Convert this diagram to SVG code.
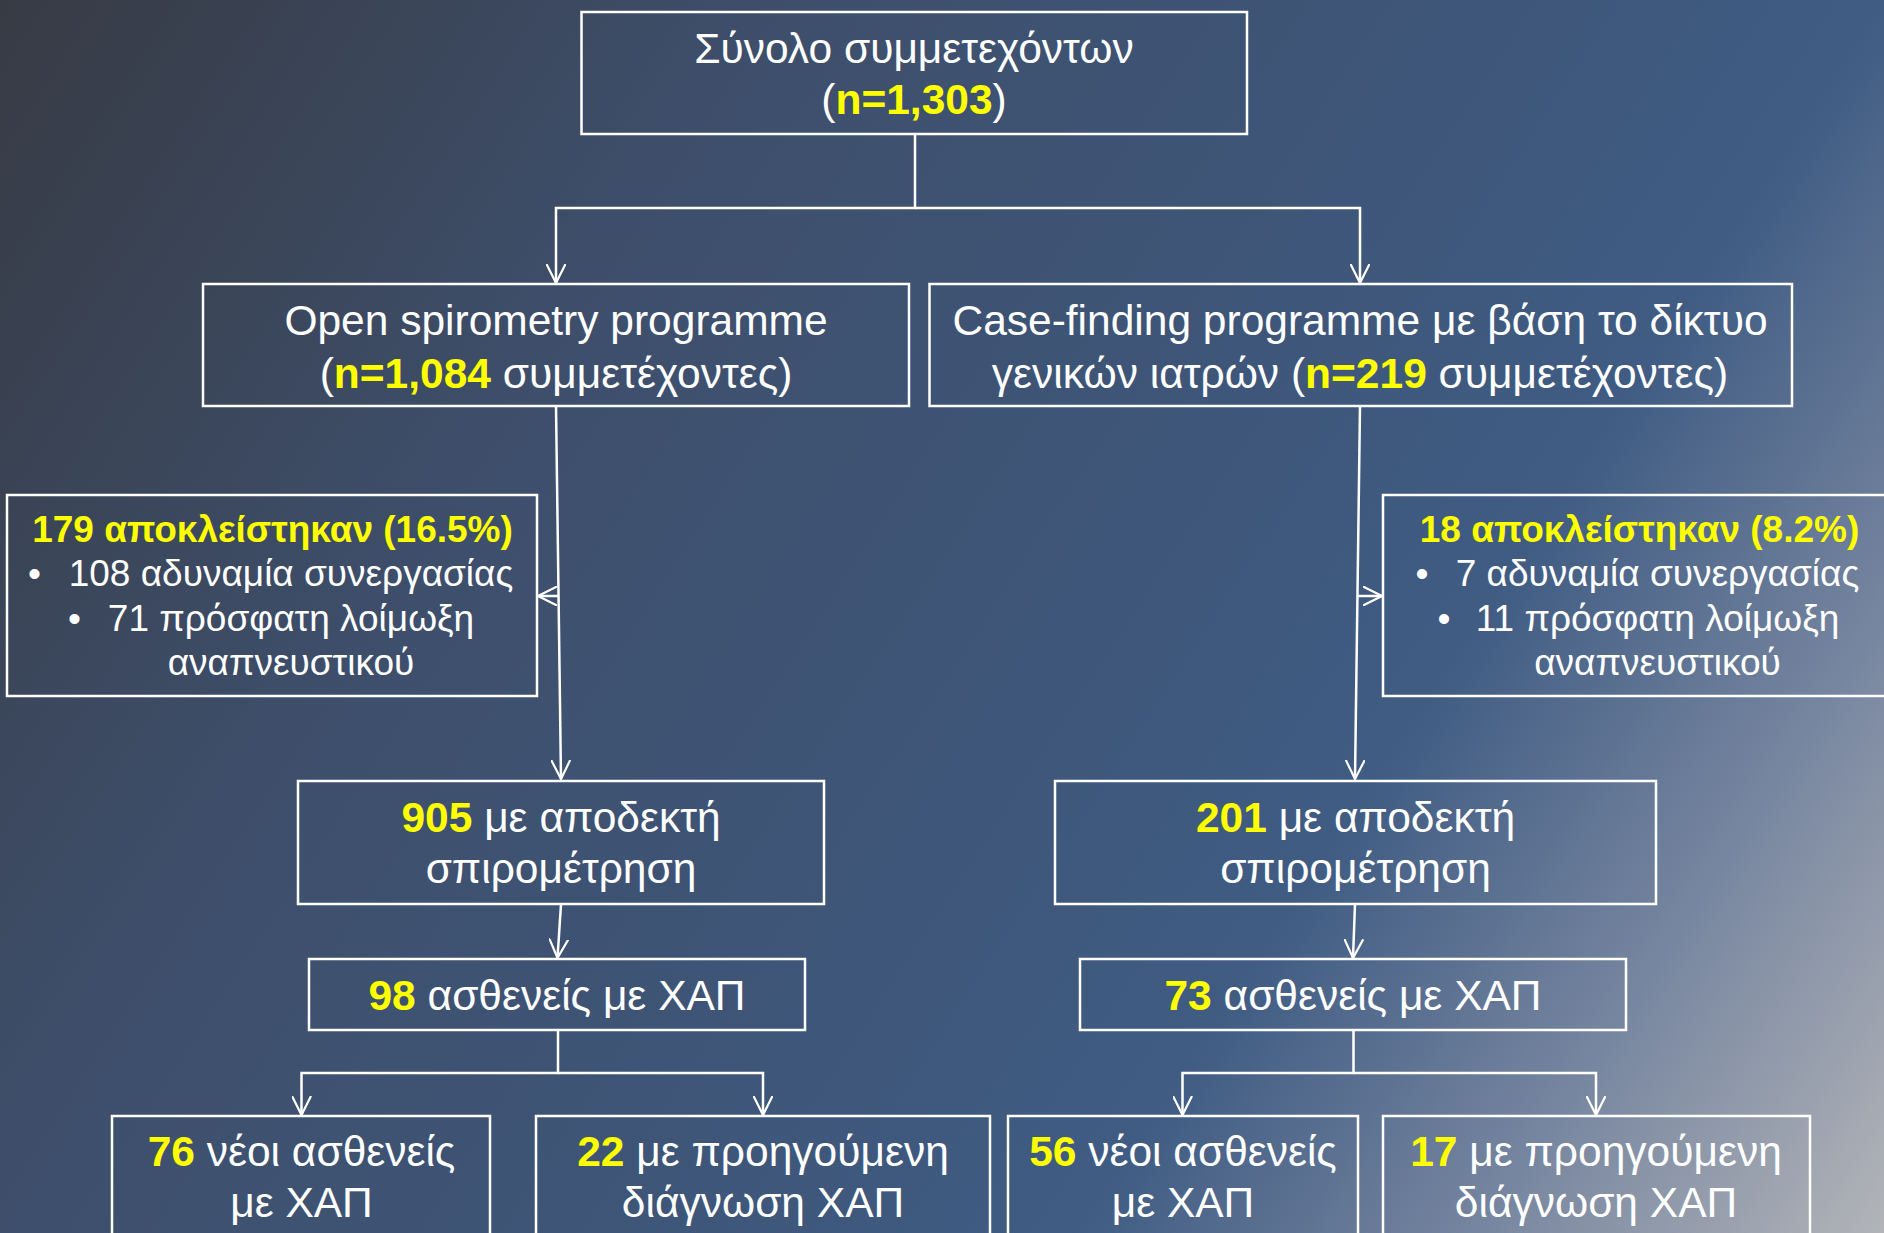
<svg xmlns="http://www.w3.org/2000/svg" width="1884" height="1233" viewBox="0 0 1884 1233">
  <defs>
    <linearGradient id="bg" gradientUnits="userSpaceOnUse" x1="0" y1="0" x2="1884" y2="1233">
      <stop offset="0" stop-color="#373b44"/>
      <stop offset="0.3" stop-color="#3e4f6c"/>
      <stop offset="0.55" stop-color="#3e5679"/>
      <stop offset="0.7" stop-color="#405c83"/>
      <stop offset="0.85" stop-color="#7786a0"/>
      <stop offset="1" stop-color="#b2b4b8"/>
    </linearGradient>
    <marker id="arrow" viewBox="0 0 20 20" refX="19" refY="10" markerWidth="20" markerHeight="20" markerUnits="userSpaceOnUse" orient="auto">
      <path d="M0,0.5 L19,10 L0,19.5" fill="none" stroke="#ffffff" stroke-width="2.2"/>
    </marker>
    <style>
      .box { fill: none; stroke: #ffffff; stroke-width: 2.5; }
      .t { font-family: "Liberation Sans", Arial, sans-serif; fill: #ffffff; text-anchor: middle; }
      .big { font-size: 42.5px; }
      .small { font-size: 37px; }
      .y { fill: #ffff00; font-weight: bold; }
      .conn path { fill: none; stroke: #ffffff; stroke-width: 2.5; }
    </style>
  </defs>

  <rect x="0" y="0" width="1884" height="1233" fill="url(#bg)"/>

  <!-- connectors -->
  <g id="connectors" class="conn">
    <path d="M915,134 V208 H556 V283" marker-end="url(#arrow)"/>
    <path d="M915,208 H1360 V283" marker-end="url(#arrow)"/>
    <path d="M556,406 L561,779" marker-end="url(#arrow)"/>
    <path d="M558.5,596 H538" marker-end="url(#arrow)"/>
    <path d="M1360,406 L1355,779" marker-end="url(#arrow)"/>
    <path d="M1357.5,596 H1382" marker-end="url(#arrow)"/>
    <path d="M561,904 L557.5,958" marker-end="url(#arrow)"/>
    <path d="M1355,904 L1353,958" marker-end="url(#arrow)"/>
    <path d="M558,1030 V1073 H301.5 V1115" marker-end="url(#arrow)"/>
    <path d="M558,1073 H763 V1115" marker-end="url(#arrow)"/>
    <path d="M1353.5,1030 V1073 H1182.5 V1115" marker-end="url(#arrow)"/>
    <path d="M1353.5,1073 H1596 V1115" marker-end="url(#arrow)"/>
  </g>

  <!-- total -->
  <g id="total">
    <rect class="box" x="581.5" y="12" width="665.5" height="122"/>
    <text class="t big" x="914" y="63">Σύνολο συμμετεχόντων</text>
    <text class="t big" x="914" y="114">(<tspan class="y">n=1,303</tspan>)</text>
  </g>

  <!-- open spirometry programme -->
  <g id="open-spirometry">
    <rect class="box" x="203" y="284" width="706" height="122"/>
    <text class="t big" x="556" y="335">Open spirometry programme</text>
    <text class="t big" x="556" y="388">(<tspan class="y">n=1,084</tspan> συμμετέχοντες)</text>
  </g>

  <!-- case-finding programme -->
  <g id="case-finding">
    <rect class="box" x="929.5" y="284" width="862.5" height="122"/>
    <text class="t big" x="1360" y="335">Case-finding programme με βάση το δίκτυο</text>
    <text class="t big" x="1360" y="388">γενικών ιατρών (<tspan class="y">n=219</tspan> συμμετέχοντες)</text>
  </g>

  <!-- exclusions, open spirometry -->
  <g id="excluded-open">
    <rect class="box" x="7" y="495" width="530" height="201"/>
    <text class="t small y" x="272.5" y="541.5">179 αποκλείστηκαν (16.5%)</text>
    <text class="t small" x="34.5" y="586">•</text>
    <text class="t small" x="291" y="586">108 αδυναμία συνεργασίας</text>
    <text class="t small" x="74.5" y="631">•</text>
    <text class="t small" x="291" y="631">71 πρόσφατη λοίμωξη</text>
    <text class="t small" x="291" y="675">αναπνευστικού</text>
  </g>

  <!-- exclusions, case-finding -->
  <g id="excluded-case">
    <rect class="box" x="1383" y="495" width="512" height="201"/>
    <text class="t small y" x="1639.5" y="541.5">18 αποκλείστηκαν (8.2%)</text>
    <text class="t small" x="1422" y="586">•</text>
    <text class="t small" x="1657.5" y="586">7 αδυναμία συνεργασίας</text>
    <text class="t small" x="1444" y="631">•</text>
    <text class="t small" x="1657.5" y="631">11 πρόσφατη λοίμωξη</text>
    <text class="t small" x="1657.5" y="675">αναπνευστικού</text>
  </g>

  <!-- acceptable spirometry -->
  <g id="acceptable-open">
    <rect class="box" x="298" y="781" width="526" height="123"/>
    <text class="t big" x="561" y="832"><tspan class="y">905</tspan> με αποδεκτή</text>
    <text class="t big" x="561" y="883">σπιρομέτρηση</text>
  </g>

  <g id="acceptable-case">
    <rect class="box" x="1055" y="781" width="601" height="123"/>
    <text class="t big" x="1355.5" y="832"><tspan class="y">201</tspan> με αποδεκτή</text>
    <text class="t big" x="1355.5" y="883">σπιρομέτρηση</text>
  </g>

  <!-- COPD patients -->
  <g id="copd-open">
    <rect class="box" x="309" y="959" width="496" height="71"/>
    <text class="t big" x="557" y="1010"><tspan class="y">98</tspan> ασθενείς με ΧΑΠ</text>
  </g>

  <g id="copd-case">
    <rect class="box" x="1080" y="959" width="546" height="71"/>
    <text class="t big" x="1353" y="1010"><tspan class="y">73</tspan> ασθενείς με ΧΑΠ</text>
  </g>

  <!-- new / previous diagnosis -->
  <g id="new-open">
    <rect class="box" x="112" y="1116" width="378" height="130"/>
    <text class="t big" x="301.5" y="1166"><tspan class="y">76</tspan> νέοι ασθενείς</text>
    <text class="t big" x="301.5" y="1217">με ΧΑΠ</text>
  </g>

  <g id="previous-open">
    <rect class="box" x="536" y="1116" width="454" height="130"/>
    <text class="t big" x="763" y="1166"><tspan class="y">22</tspan> με προηγούμενη</text>
    <text class="t big" x="763" y="1217">διάγνωση ΧΑΠ</text>
  </g>

  <g id="new-case">
    <rect class="box" x="1008" y="1116" width="350" height="130"/>
    <text class="t big" x="1183" y="1166"><tspan class="y">56</tspan> νέοι ασθενείς</text>
    <text class="t big" x="1183" y="1217">με ΧΑΠ</text>
  </g>

  <g id="previous-case">
    <rect class="box" x="1383" y="1116" width="427" height="130"/>
    <text class="t big" x="1596" y="1166"><tspan class="y">17</tspan> με προηγούμενη</text>
    <text class="t big" x="1596" y="1217">διάγνωση ΧΑΠ</text>
  </g>
</svg>
